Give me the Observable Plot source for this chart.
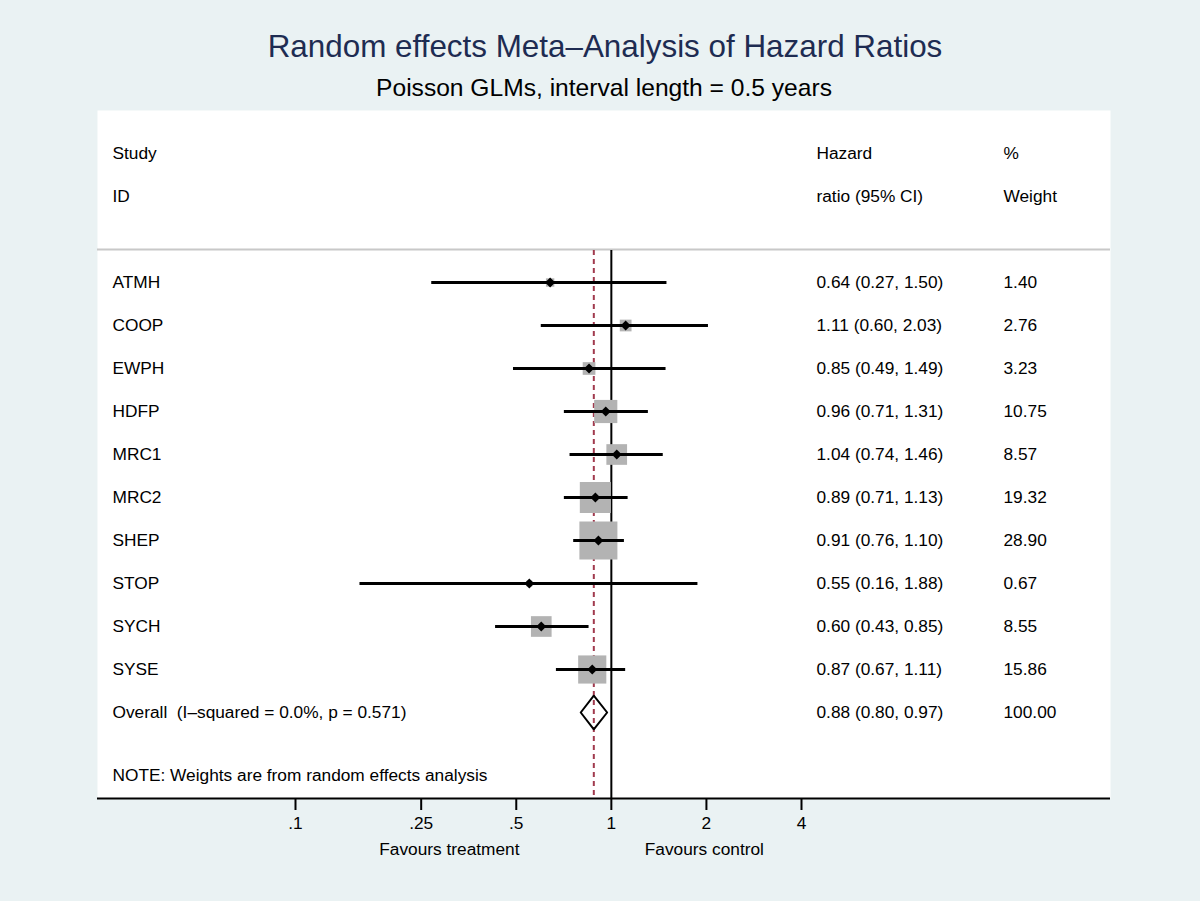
<!DOCTYPE html>
<html>
<head>
<meta charset="utf-8">
<script src="https://cdn.jsdelivr.net/npm/d3@7"></script>
<script src="https://cdn.jsdelivr.net/npm/@observablehq/plot@0.6"></script>
<style>
  html, body { margin: 0; padding: 0; background: #eaf2f3; }
  #wrap { width: 1200px; height: 901px; position: relative; overflow: hidden; font-family: "Liberation Sans", Arial, Helvetica, sans-serif; }
  #head { height: 110px; position: relative; }
  #title { position: absolute; left: 5px; width: 1200px; top: 30px; text-align: center; font-size: 31.4px; line-height: 34px; color: #1e2c52; }
  #subtitle { position: absolute; left: 4px; width: 1200px; top: 74px; text-align: center; font-size: 24.6px; line-height: 28px; color: #000; }
  #chart svg { display: block; }
</style>
</head>
<body>
<div id="wrap">
  <div id="head">
    <div id="title"></div>
    <div id="subtitle"></div>
  </div>
  <div id="chart"></div>
</div>
<script>
// ---- data ----
const titleText = "Random effects Meta\u2013Analysis of Hazard Ratios";
const subtitleText = "Poisson GLMs, interval length = 0.5 years";
const studies = ["ATMH", "COOP", "EWPH", "HDFP", "MRC1", "MRC2", "SHEP", "STOP", "SYCH", "SYSE"];
const hazard = [0.64, 1.11, 0.85, 0.96, 1.04, 0.89, 0.91, 0.55, 0.60, 0.87];
const lower  = [0.27, 0.60, 0.49, 0.71, 0.74, 0.71, 0.76, 0.16, 0.43, 0.67];
const upper  = [1.50, 2.03, 1.49, 1.31, 1.46, 1.13, 1.10, 1.88, 0.85, 1.11];
const weights = [1.40, 2.76, 3.23, 10.75, 8.57, 19.32, 28.90, 0.67, 8.55, 15.86];
const overallLabel = "Overall\u00a0 (I\u2013squared = 0.0%, p = 0.571)";
const overallHR = 0.88, overallLo = 0.80, overallHi = 0.97, overallWeight = 100.00;
const noteText = "NOTE: Weights are from random effects analysis";
const headerStudy = ["Study", "ID"];
const headerHR = ["Hazard", "ratio (95% CI)"];
const headerW = ["%", "Weight"];
const tickValues = [0.1, 0.25, 0.5, 1, 2, 4];
const tickLabels = [".1", ".25", ".5", "1", "2", "4"];
const favours = ["Favours treatment", "Favours control"];

document.getElementById("title").textContent = titleText;
document.getElementById("subtitle").textContent = subtitleText;

// ---- derived tables ----
const firstRow = 3;
const table = studies.map((s, i) => ({
  study: s, row: firstRow + i, hr: hazard[i], lo: lower[i], hi: upper[i], w: weights[i],
  ci: `${hazard[i].toFixed(2)} (${lower[i].toFixed(2)}, ${upper[i].toFixed(2)})`,
  wt: weights[i].toFixed(2)
}));
const overallRow = firstRow + studies.length;
const lastRow = overallRow + 2;
const headers = [0, 1].map(i => ({row: i, a: headerStudy[i], b: headerHR[i], c: headerW[i]}));
const overallRowData = [{
  row: overallRow, study: overallLabel,
  ci: `${overallHR.toFixed(2)} (${overallLo.toFixed(2)}, ${overallHi.toFixed(2)})`,
  wt: overallWeight.toFixed(2)
}];
const dh = 0.39;
const diamondPts = [
  {x: overallLo, y: overallRow}, {x: overallHR, y: overallRow - dh},
  {x: overallHi, y: overallRow}, {x: overallHR, y: overallRow + dh},
  {x: overallLo, y: overallRow}
];

const diamondSymbol = {
  draw(c, size) {
    const h = Math.sqrt(size / Math.PI);
    c.moveTo(0, -h); c.lineTo(h, 0); c.lineTo(0, h); c.lineTo(-h, 0); c.closePath();
  }
};

const font = "Liberation Sans, Arial, Helvetica, sans-serif";
const fs = 17.3;
const colLeft = 15, colHR = 719, colW = 906;

const chart = Plot.plot({
  width: 1200,
  height: 791,
  marginLeft: 97,
  marginRight: 90,
  marginTop: 0,
  marginBottom: 103,
  style: {background: "#eaf2f3", fontFamily: font, fontSize: fs + "px", color: "black"},
  x: {type: "log", domain: [tickValues[0], tickValues[tickValues.length - 1]], range: [295, 801]},
  y: {domain: [-1, lastRow], range: [0, 688], axis: null},
  r: {type: "sqrt", domain: [0, d3.max(weights)], range: [0, 21.44]},
  marks: [
    Plot.frame({fill: "white", stroke: null}),
    Plot.ruleY([2], {dy: 10, stroke: "#c8c8c8", strokeWidth: 2}),
    Plot.ruleX([1], {y1: 2, y2: lastRow, insetTop: 11, stroke: "black", strokeWidth: 2}),
    Plot.ruleX([overallHR], {y1: 2, y2: lastRow, insetTop: 11, stroke: "#a13a4e", strokeWidth: 2, strokeDasharray: "5,4"}),
    Plot.dot(table, {x: "hr", y: "row", r: "w", symbol: "square", fill: "#b3b3b3", stroke: null}),
    Plot.ruleY(table, {y: "row", x1: "lo", x2: "hi", stroke: "black", strokeWidth: 3}),
    Plot.dot(table, {x: "hr", y: "row", r: 5, symbol: diamondSymbol, fill: "black", stroke: null}),
    Plot.line(diamondPts, {x: "x", y: "y", stroke: "black", strokeWidth: 2, curve: "linear"}),
    Plot.ruleY([lastRow], {stroke: "black", strokeWidth: 2}),
    Plot.axisX({ticks: tickValues, tickFormat: (d) => tickLabels[tickValues.indexOf(d)], tickSize: 12, tickPadding: 6, strokeWidth: 2, fontSize: fs, fill: "black", label: null}),
    Plot.text([favours[0]], {x: [1], y: [lastRow], text: (d) => d, dx: -162, dy: 51, fontSize: fs, fill: "black"}),
    Plot.text([favours[1]], {x: [1], y: [lastRow], text: (d) => d, dx: 93, dy: 51, fontSize: fs, fill: "black"}),
    // headers
    Plot.text(headers, {y: "row", text: "a", frameAnchor: "left", dx: colLeft, textAnchor: "start", fontSize: fs, fill: "black"}),
    Plot.text(headers, {y: "row", text: "b", frameAnchor: "left", dx: colHR, textAnchor: "start", fontSize: fs, fill: "black"}),
    Plot.text(headers, {y: "row", text: "c", frameAnchor: "left", dx: colW, textAnchor: "start", fontSize: fs, fill: "black"}),
    // study rows
    Plot.text(table.concat(overallRowData), {y: "row", text: "study", frameAnchor: "left", dx: colLeft, textAnchor: "start", fontSize: fs, fill: "black"}),
    Plot.text(table.concat(overallRowData), {y: "row", text: "ci", frameAnchor: "left", dx: colHR, textAnchor: "start", fontSize: fs, fill: "black"}),
    Plot.text(table.concat(overallRowData), {y: "row", text: "wt", frameAnchor: "left", dx: colW, textAnchor: "start", fontSize: fs, fill: "black"}),
    Plot.text([noteText], {y: [overallRow + 1], text: (d) => d, frameAnchor: "left", dx: colLeft, dy: 20, textAnchor: "start", fontSize: fs, fill: "black"})
  ]
});
document.getElementById("chart").appendChild(chart);
</script>
</body>
</html>
